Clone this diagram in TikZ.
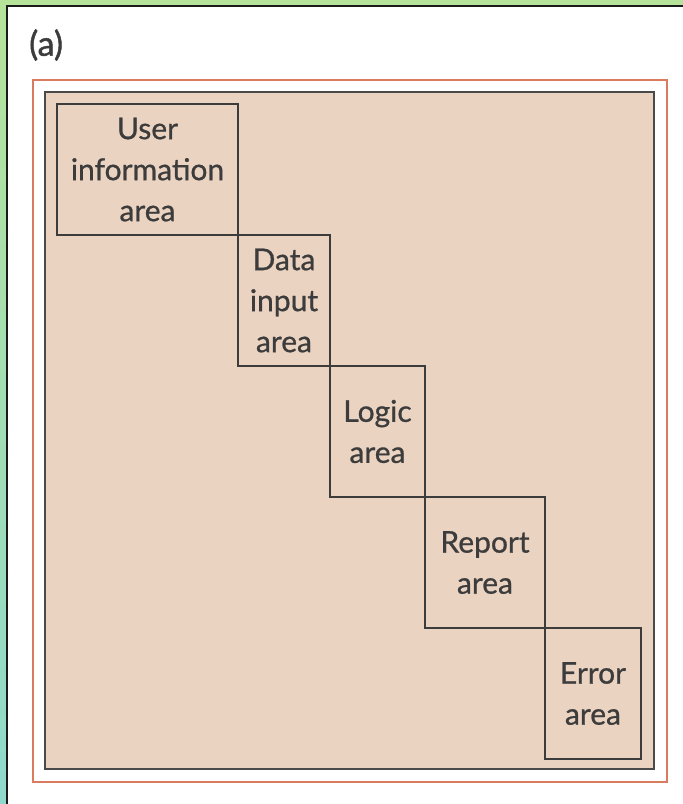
\documentclass[tikz,border=0pt]{standalone}
\usepackage{fontspec}
\setmainfont{Lato}
\newfontfamily\areafont[FakeBold=0.8]{Lato}
\newfontfamily\tagfont[FakeBold=1.4]{Lato}
\usetikzlibrary{positioning}
\definecolor{leafgreen}{HTML}{B5E39A}
\definecolor{leafteal}{HTML}{8FD9CC}
\definecolor{panelline}{HTML}{1A1A1A}
\definecolor{rustline}{HTML}{D97B5E}
\definecolor{sandfill}{HTML}{EBD3C2}
\definecolor{frameline}{HTML}{4A4A4A}
\definecolor{inkgrey}{HTML}{3C3C3C}
\tikzset{
	areabox/.style={
		draw=inkgrey,
		line width=1.4pt,
		text=inkgrey,
		align=center,
		inner sep=0pt,
		outer sep=0pt,
		minimum height=131pt,
		font={\areafont\fontsize{30}{41}\selectfont}
	},
	tag/.style={
		text=inkgrey,
		inner sep=0pt,
		font={\tagfont\fontsize{34}{38}\selectfont}
	}
}

\begin{document}
\begin{tikzpicture}[x=1pt,y=-1pt]
	\useasboundingbox (0,0) rectangle (683,804);
	% leafy backdrop and white panel
	\shade[top color=leafgreen, bottom color=leafteal] (0,0) rectangle (683,804);
	\fill[white] (7,6) rectangle (683,804);
	\draw[panelline, line width=1.5pt] (7,804) -- (7,6) -- (683,6);

	\node(label)[tag, anchor=west] at (29,45) {(a)};

	\draw[rustline, line width=2pt] (33,80) rectangle (667,782);
	\draw[frameline, fill=sandfill, line width=2pt] (45,92) rectangle (654,769);

	% staircase of areas
	\node(user)[areabox, minimum width=181pt, anchor=north west] at (57,104) {User\\information\\area};
	\node(data)[areabox, minimum width=92pt, below right=0pt and 0pt of user] {Data\\input\\area};
	\node(logic)[areabox, minimum width=95pt, below right=0pt and 0pt of data] {Logic\\area};
	\node(report)[areabox, minimum width=120pt, below right=0pt and 0pt of logic] {Report\\area};
	\node(error)[areabox, minimum width=96pt, below right=0pt and 0pt of report] {Error\\area};
\end{tikzpicture}
\end{document}
